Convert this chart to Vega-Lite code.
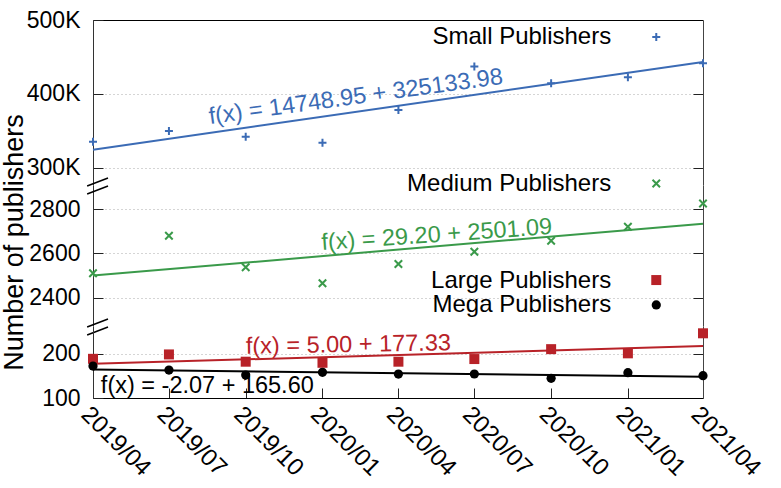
{
  "$schema": "https://vega.github.io/schema/vega-lite/v6.json",
  "padding": {"left": 0, "top": 9, "right": 0, "bottom": 0},
  "config": {
    "font": "Liberation Sans",
    "view": {"stroke": null},
    "axis": {"labelFontSize": 23, "labelColor": "black", "tickColor": "#222", "domainColor": "#333", "titleFontWeight": "normal", "titleColor": "black", "titleFontSize": 27, "gridColor": "#aaaaaa", "gridDash": [1, 3], "gridWidth": 1}
  },
  "datasets": {
    "pub": [
      {"date": "2019-04-01", "series": "Small", "publishers": 335500},
      {"date": "2019-07-01", "series": "Small", "publishers": 350000},
      {"date": "2019-10-01", "series": "Small", "publishers": 342300},
      {"date": "2020-01-01", "series": "Small", "publishers": 334200},
      {"date": "2020-04-01", "series": "Small", "publishers": 378400},
      {"date": "2020-07-01", "series": "Small", "publishers": 437000},
      {"date": "2020-10-01", "series": "Small", "publishers": 414500},
      {"date": "2021-01-01", "series": "Small", "publishers": 422500},
      {"date": "2021-04-01", "series": "Small", "publishers": 441500},
      {"date": "2019-04-01", "series": "Medium", "publishers": 2511},
      {"date": "2019-07-01", "series": "Medium", "publishers": 2680},
      {"date": "2019-10-01", "series": "Medium", "publishers": 2538},
      {"date": "2020-01-01", "series": "Medium", "publishers": 2466},
      {"date": "2020-04-01", "series": "Medium", "publishers": 2553},
      {"date": "2020-07-01", "series": "Medium", "publishers": 2608},
      {"date": "2020-10-01", "series": "Medium", "publishers": 2657},
      {"date": "2021-01-01", "series": "Medium", "publishers": 2720},
      {"date": "2021-04-01", "series": "Medium", "publishers": 2825},
      {"date": "2019-04-01", "series": "Large", "publishers": 189},
      {"date": "2019-07-01", "series": "Large", "publishers": 199},
      {"date": "2019-10-01", "series": "Large", "publishers": 182.5},
      {"date": "2020-01-01", "series": "Large", "publishers": 180},
      {"date": "2020-04-01", "series": "Large", "publishers": 182.5},
      {"date": "2020-07-01", "series": "Large", "publishers": 188.5},
      {"date": "2020-10-01", "series": "Large", "publishers": 211},
      {"date": "2021-01-01", "series": "Large", "publishers": 201.5},
      {"date": "2021-04-01", "series": "Large", "publishers": 247},
      {"date": "2019-04-01", "series": "Mega", "publishers": 172.5},
      {"date": "2019-07-01", "series": "Mega", "publishers": 163.5},
      {"date": "2019-10-01", "series": "Mega", "publishers": 152},
      {"date": "2020-01-01", "series": "Mega", "publishers": 158.3},
      {"date": "2020-04-01", "series": "Mega", "publishers": 154.3},
      {"date": "2020-07-01", "series": "Mega", "publishers": 154.5},
      {"date": "2020-10-01", "series": "Mega", "publishers": 144.7},
      {"date": "2021-01-01", "series": "Mega", "publishers": 157.5},
      {"date": "2021-04-01", "series": "Mega", "publishers": 150.7}
    ]
  },
  "data": {"name": "pub", "format": {"parse": {"date": "date"}}},
  "spacing": 0,
  "bounds": "flush",
  "vconcat": [
    {
      "width": 610, "height": 165,
      "layer": [
        {
          "layer": [
            {
              "transform": [{"filter": "datum.series === 'Small'"}, {"regression": "publishers", "on": "date"}],
              "mark": {"type": "line", "color": "#3b6bb5", "strokeWidth": 2},
              "encoding": {
                "x": {"field": "date", "type": "temporal", "scale": {"type": "utc", "domain": [{"year": 2019, "month": 4, "date": 1, "utc": true}, {"year": 2021, "month": 4, "date": 1, "utc": true}]}, "axis": {"orient": "top", "labels": false, "ticks": false, "grid": false, "title": null, "domainColor": "black"}},
                "y": {"field": "publishers", "type": "quantitative", "scale": {"domain": [277000, 500000], "zero": false, "nice": false}, "axis": {"values": [300000, 400000, 500000], "labelExpr": "format(datum.value / 1000, 'd') + 'K'", "grid": true, "tickSize": -10, "labelPadding": 23, "title": null}}
              }
            },
            {
              "transform": [{"filter": "datum.series === 'Small'"}],
              "mark": {"type": "point", "shape": "M-1,0L1,0M0,-1L0,1", "filled": false, "strokeWidth": 2, "size": 64, "color": "#3b6bb5", "opacity": 1},
              "encoding": {"x": {"field": "date", "type": "temporal"}, "y": {"field": "publishers", "type": "quantitative"}}
            },
            {
              "data": {"values": [{"label": "f(x) = 14748.95 + 325133.98"}]},
              "mark": {"type": "text", "color": "#3b6bb5", "fontSize": 23.5, "angle": -7.8, "align": "center", "baseline": "middle"},
              "encoding": {"x": {"datum": {"year": 2020, "month": 2, "date": 10, "utc": true}, "type": "temporal"}, "y": {"datum": 396000, "type": "quantitative"}, "text": {"field": "label"}}
            },
            {
              "data": {"values": [{"label": "Small Publishers"}]},
              "mark": {"type": "text", "color": "black", "fontSize": 24, "align": "right", "baseline": "middle"},
              "encoding": {"x": {"datum": {"year": 2020, "month": 12, "date": 12, "utc": true}, "type": "temporal"}, "y": {"datum": 477000, "type": "quantitative"}, "text": {"field": "label"}}
            },
            {
              "data": {"values": [{"series": "Small"}]},
              "mark": {"type": "point", "shape": "M-1,0L1,0M0,-1L0,1", "filled": false, "strokeWidth": 2, "size": 64, "color": "#3b6bb5", "opacity": 1},
              "encoding": {"x": {"datum": {"year": 2021, "month": 2, "date": 4, "utc": true}, "type": "temporal"}, "y": {"datum": 477000, "type": "quantitative"}}
            }
          ]
        },
        {
          "data": {"values": [{}]},
          "mark": {"type": "point", "opacity": 0},
          "encoding": {"y": {"datum": 400000, "type": "quantitative", "scale": {"domain": [277000, 500000], "zero": false, "nice": false}, "axis": {"orient": "right", "values": [300000, 400000], "labels": false, "grid": false, "title": null, "tickSize": -10, "domainColor": "#444"}}}
        }
      ],
      "resolve": {"scale": {"y": "independent"}}
    },
    {
      "width": 610, "height": 141,
      "layer": [
        {
          "layer": [
            {
              "transform": [{"filter": "datum.series === 'Medium'"}, {"regression": "publishers", "on": "date"}],
              "mark": {"type": "line", "color": "#3a9a4a", "strokeWidth": 2},
              "encoding": {
                "x": {"field": "date", "type": "temporal", "scale": {"type": "utc", "domain": [{"year": 2019, "month": 4, "date": 1, "utc": true}, {"year": 2021, "month": 4, "date": 1, "utc": true}]}, "axis": null},
                "y": {"field": "publishers", "type": "quantitative", "scale": {"domain": [2274, 2908], "zero": false, "nice": false}, "axis": {"values": [2400, 2600, 2800], "format": "d", "grid": true, "tickSize": -10, "labelPadding": 23, "title": "Number of publishers", "titlePadding": 0, "titleY": 57}}
              }
            },
            {
              "transform": [{"filter": "datum.series === 'Medium'"}],
              "mark": {"type": "point", "shape": "M-1,-1L1,1M-1,1L1,-1", "filled": false, "strokeWidth": 2, "size": 56, "color": "#3a9a4a", "opacity": 1},
              "encoding": {"x": {"field": "date", "type": "temporal"}, "y": {"field": "publishers", "type": "quantitative"}}
            },
            {
              "data": {"values": [{"label": "f(x) = 29.20 + 2501.09"}]},
              "mark": {"type": "text", "color": "#3a9a4a", "fontSize": 23.5, "angle": -4, "align": "center", "baseline": "middle"},
              "encoding": {"x": {"datum": {"year": 2020, "month": 5, "date": 17, "utc": true}, "type": "temporal"}, "y": {"datum": 2683, "type": "quantitative"}, "text": {"field": "label"}}
            },
            {
              "data": {"values": [{"label": "Medium Publishers"}]},
              "mark": {"type": "text", "color": "black", "fontSize": 24, "align": "right", "baseline": "middle"},
              "encoding": {"x": {"datum": {"year": 2020, "month": 12, "date": 12, "utc": true}, "type": "temporal"}, "y": {"datum": 2912, "type": "quantitative"}, "text": {"field": "label"}}
            },
            {
              "data": {"values": [{"series": "Medium"}]},
              "mark": {"type": "point", "shape": "M-1,-1L1,1M-1,1L1,-1", "filled": false, "strokeWidth": 2, "size": 56, "color": "#3a9a4a", "opacity": 1},
              "encoding": {"x": {"datum": {"year": 2021, "month": 2, "date": 4, "utc": true}, "type": "temporal"}, "y": {"datum": 2915, "type": "quantitative"}}
            },
            {
              "data": {"values": [{}]},
              "mark": {"type": "rule", "color": "black", "strokeWidth": 1.5},
              "encoding": {"x": {"datum": {"year": 2019, "month": 3, "date": 25, "utc": true}, "type": "temporal"}, "x2": {"datum": {"year": 2019, "month": 4, "date": 19, "utc": true}}, "y": {"datum": 2903.5, "type": "quantitative"}, "y2": {"datum": 2939.5}}
            },
            {
              "data": {"values": [{}]},
              "mark": {"type": "rule", "color": "black", "strokeWidth": 1.5},
              "encoding": {"x": {"datum": {"year": 2019, "month": 3, "date": 25, "utc": true}, "type": "temporal"}, "x2": {"datum": {"year": 2019, "month": 4, "date": 19, "utc": true}}, "y": {"datum": 2867.5, "type": "quantitative"}, "y2": {"datum": 2903.5}}
            },
            {
              "data": {"values": [{}]},
              "mark": {"type": "rule", "color": "black", "strokeWidth": 1.5},
              "encoding": {"x": {"datum": {"year": 2019, "month": 3, "date": 25, "utc": true}, "type": "temporal"}, "x2": {"datum": {"year": 2019, "month": 4, "date": 19, "utc": true}}, "y": {"datum": 2269.5, "type": "quantitative"}, "y2": {"datum": 2305.5}}
            },
            {
              "data": {"values": [{}]},
              "mark": {"type": "rule", "color": "black", "strokeWidth": 1.5},
              "encoding": {"x": {"datum": {"year": 2019, "month": 3, "date": 25, "utc": true}, "type": "temporal"}, "x2": {"datum": {"year": 2019, "month": 4, "date": 19, "utc": true}}, "y": {"datum": 2233.5, "type": "quantitative"}, "y2": {"datum": 2269.5}}
            }
          ]
        },
        {
          "data": {"values": [{}]},
          "mark": {"type": "point", "opacity": 0},
          "encoding": {"y": {"datum": 2600, "type": "quantitative", "scale": {"domain": [2274, 2908], "zero": false, "nice": false}, "axis": {"orient": "right", "values": [2400, 2600, 2800], "labels": false, "grid": false, "title": null, "tickSize": -10, "domainColor": "#444"}}}
        }
      ],
      "resolve": {"scale": {"y": "independent"}}
    },
    {
      "width": 610, "height": 72,
      "layer": [
        {
          "layer": [
            {
              "transform": [{"filter": "datum.series === 'Large'"}, {"regression": "publishers", "on": "date"}],
              "mark": {"type": "line", "color": "#b82228", "strokeWidth": 2},
              "encoding": {
                "x": {"field": "date", "type": "temporal", "scale": {"type": "utc", "domain": [{"year": 2019, "month": 4, "date": 1, "utc": true}, {"year": 2021, "month": 4, "date": 1, "utc": true}]}, "axis": {"values": [{"year": 2019, "month": 4, "date": 1, "utc": true}, {"year": 2019, "month": 7, "date": 1, "utc": true}, {"year": 2019, "month": 10, "date": 1, "utc": true}, {"year": 2020, "month": 1, "date": 1, "utc": true}, {"year": 2020, "month": 4, "date": 1, "utc": true}, {"year": 2020, "month": 7, "date": 1, "utc": true}, {"year": 2020, "month": 10, "date": 1, "utc": true}, {"year": 2021, "month": 1, "date": 1, "utc": true}, {"year": 2021, "month": 4, "date": 1, "utc": true}], "format": "%Y/%m", "labelAngle": 45, "labelAlign": "left", "labelBaseline": "top", "labelPadding": 14, "labelFontSize": 24, "tickSize": -10, "grid": false, "title": null, "domainColor": "black", "labelOverlap": false, "labelFlush": false}},
                "y": {"field": "publishers", "type": "quantitative", "scale": {"domain": [100, 263.6], "zero": false, "nice": false}, "axis": {"values": [100, 200], "format": "d", "grid": true, "tickSize": -10, "labelPadding": 23, "title": null}}
              }
            },
            {
              "transform": [{"filter": "datum.series === 'Mega'"}, {"regression": "publishers", "on": "date"}],
              "mark": {"type": "line", "color": "black", "strokeWidth": 2},
              "encoding": {"x": {"field": "date", "type": "temporal"}, "y": {"field": "publishers", "type": "quantitative"}}
            },
            {
              "transform": [{"filter": "datum.series === 'Large'"}],
              "mark": {"type": "point", "shape": "square", "filled": true, "size": 100, "color": "#b82228", "opacity": 1},
              "encoding": {"x": {"field": "date", "type": "temporal"}, "y": {"field": "publishers", "type": "quantitative"}}
            },
            {
              "transform": [{"filter": "datum.series === 'Mega'"}],
              "mark": {"type": "point", "shape": "circle", "filled": true, "size": 85, "color": "black", "opacity": 1},
              "encoding": {"x": {"field": "date", "type": "temporal"}, "y": {"field": "publishers", "type": "quantitative"}}
            },
            {
              "data": {"values": [{"label": "f(x) = 5.00 + 177.33"}]},
              "mark": {"type": "text", "color": "#b82228", "fontSize": 23.5, "angle": -1, "align": "center", "baseline": "middle"},
              "encoding": {"x": {"datum": {"year": 2020, "month": 2, "date": 1, "utc": true}, "type": "temporal"}, "y": {"datum": 220.5, "type": "quantitative"}, "text": {"field": "label"}}
            },
            {
              "data": {"values": [{"label": "f(x) = -2.07 + 165.60"}]},
              "mark": {"type": "text", "color": "black", "fontSize": 23.5, "align": "center", "baseline": "middle"},
              "encoding": {"x": {"datum": {"year": 2019, "month": 8, "date": 16, "utc": true}, "type": "temporal"}, "y": {"datum": 127.3, "type": "quantitative"}, "text": {"field": "label"}}
            },
            {
              "data": {"values": [{"label": "Large Publishers"}]},
              "mark": {"type": "text", "color": "black", "fontSize": 24, "align": "right", "baseline": "middle"},
              "encoding": {"x": {"datum": {"year": 2020, "month": 12, "date": 12, "utc": true}, "type": "temporal"}, "y": {"datum": 365.9, "type": "quantitative"}, "text": {"field": "label"}}
            },
            {
              "data": {"values": [{"label": "Mega Publishers"}]},
              "mark": {"type": "text", "color": "black", "fontSize": 24, "align": "right", "baseline": "middle"},
              "encoding": {"x": {"datum": {"year": 2020, "month": 12, "date": 12, "utc": true}, "type": "temporal"}, "y": {"datum": 311.4, "type": "quantitative"}, "text": {"field": "label"}}
            },
            {
              "data": {"values": [{"series": "Large"}]},
              "mark": {"type": "point", "shape": "square", "filled": true, "size": 100, "color": "#b82228", "opacity": 1},
              "encoding": {"x": {"datum": {"year": 2021, "month": 2, "date": 4, "utc": true}, "type": "temporal"}, "y": {"datum": 368, "type": "quantitative"}}
            },
            {
              "data": {"values": [{"series": "Mega"}]},
              "mark": {"type": "point", "shape": "circle", "filled": true, "size": 85, "color": "black", "opacity": 1},
              "encoding": {"x": {"datum": {"year": 2021, "month": 2, "date": 4, "utc": true}, "type": "temporal"}, "y": {"datum": 311.4, "type": "quantitative"}}
            }
          ]
        },
        {
          "data": {"values": [{}]},
          "mark": {"type": "point", "opacity": 0},
          "encoding": {"y": {"datum": 150, "type": "quantitative", "scale": {"domain": [100, 263.6], "zero": false, "nice": false}, "axis": {"orient": "right", "values": [200], "labels": false, "grid": false, "title": null, "tickSize": -10, "domainColor": "#444"}}}
        }
      ],
      "resolve": {"scale": {"y": "independent"}}
    }
  ]
}
